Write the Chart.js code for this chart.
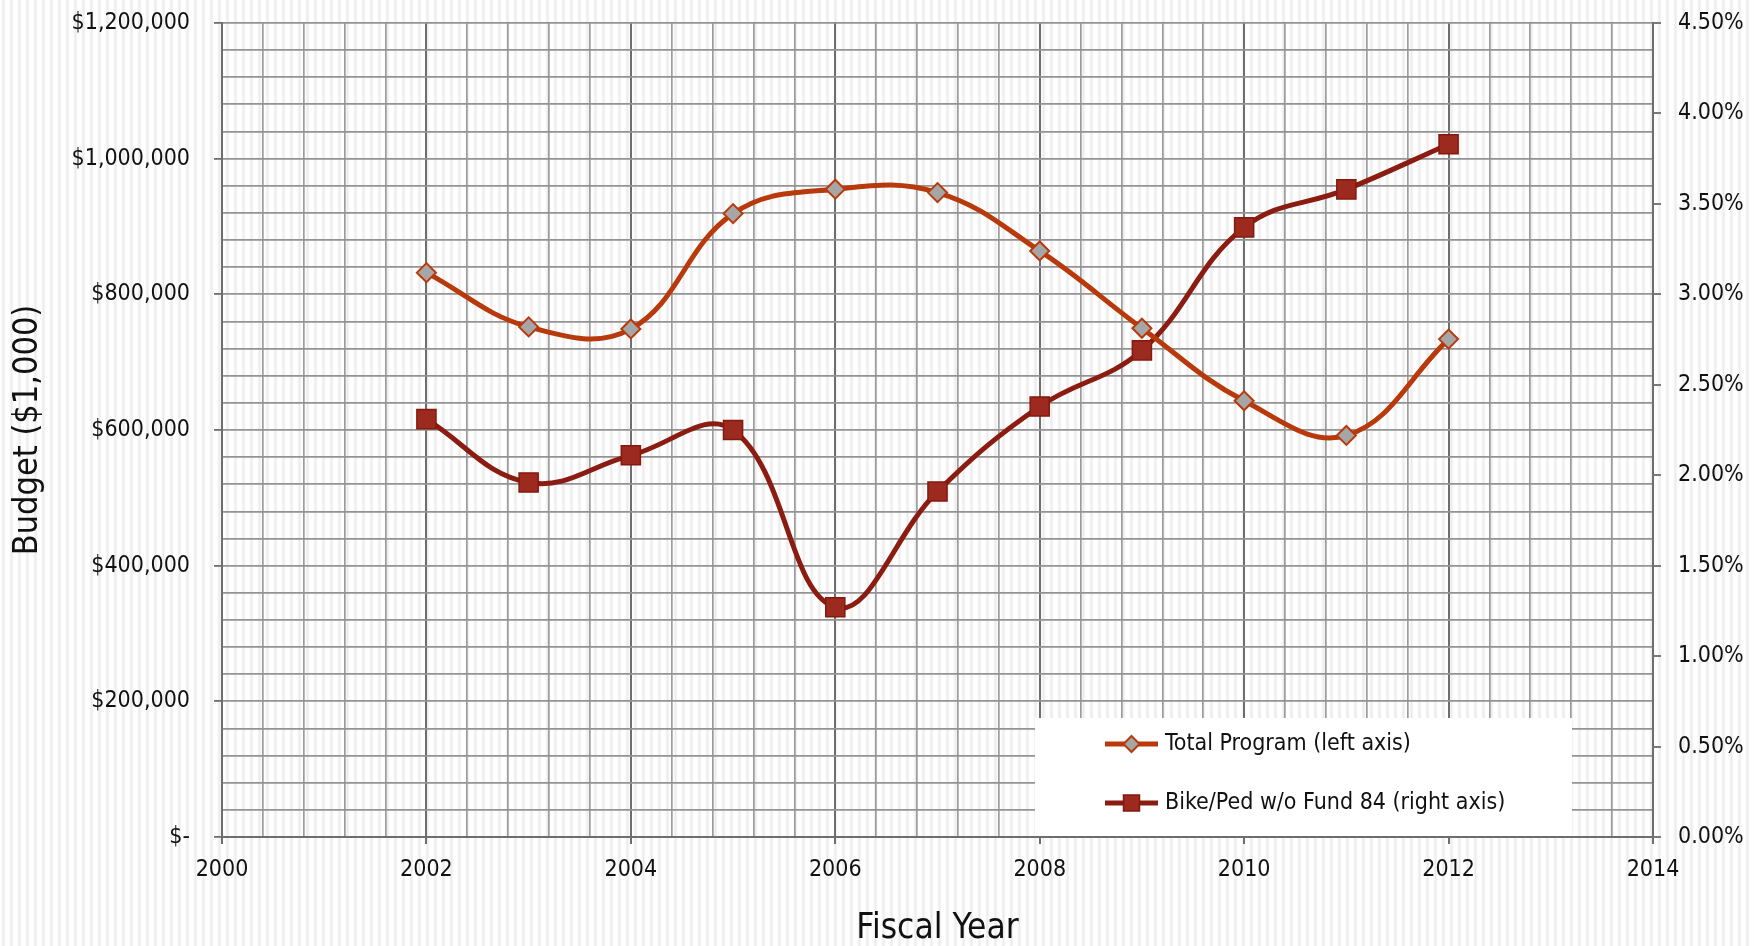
<!DOCTYPE html>
<html>
<head>
<meta charset="utf-8">
<title>Budget by Fiscal Year</title>
<script src="https://cdn.jsdelivr.net/npm/chart.js@4.4.1/dist/chart.umd.min.js"></script>
<style>
    body { margin: 0; background: #fff; }
    #grafico { display: block; }
</style>
</head>
<body>
<canvas id="grafico" width="1754" height="946"></canvas>
<script>
    // dados
    let anos = [2002, 2003, 2004, 2005, 2006, 2007, 2008, 2009, 2010, 2011, 2012];
    let totalPrograma = [832000, 752000, 749000, 919000, 955000, 950000, 864000, 750000, 643000, 592000, 734000];
    let bikePed = [2.31, 1.96, 2.11, 2.25, 1.27, 1.91, 2.38, 2.69, 3.37, 3.58, 3.83]; // em %

    let nomesSeries = ['Total Program (left axis)', 'Bike/Ped w/o Fund 84 (right axis)'];
    let ticksAnos = [2000, 2002, 2004, 2006, 2008, 2010, 2012, 2014];
    let ticksBudget = [0, 200000, 400000, 600000, 800000, 1000000, 1200000];
    let ticksPercent = [0, 0.5, 1, 1.5, 2, 2.5, 3, 3.5, 4, 4.5];

    const fonte = "'Liberation Sans Narrow', 'DejaVu Sans Condensed', 'Arial Narrow', sans-serif";

    function ehTick(valor, lista) {
        return lista.some(t => Math.abs(t - valor) < 1e-6);
    }

    // largura fixa do eixo vertical, sem folga extra no topo
    function fixarEixo(largura) {
        return s => {
            s.width = largura;
            s.paddingTop = 0;
            s.paddingBottom = 0;
        };
    }

    // fundo com listras verticais
    const fundoListrado = {
        id: 'fundoListrado',
        beforeDraw(chart) {
            const ctx = chart.ctx;
            const tile = document.createElement('canvas');
            tile.width = 8;
            tile.height = 1;
            const t = tile.getContext('2d');
            const tons = ['#ffffff', '#fcfcfc', '#f3f3f3', '#ececec', '#f3f3f3', '#fcfcfc', '#ffffff', '#ffffff'];
            tons.forEach((c, i) => { t.fillStyle = c; t.fillRect(i, 0, 1, 1); });
            ctx.save();
            ctx.fillStyle = ctx.createPattern(tile, 'repeat');
            ctx.fillRect(0, 0, chart.width, chart.height);
            ctx.restore();
        }
    };

    // legenda dentro da area do grafico, canto inferior direito
    const legendaInterna = {
        id: 'legendaInterna',
        afterDatasetsDraw(chart) {
            const ctx = chart.ctx;
            const area = chart.chartArea;
            const x0 = 1035, x1 = 1572;
            const y0 = 718;
            ctx.save();
            ctx.fillStyle = '#ffffff';
            ctx.fillRect(x0, y0, x1 - x0, area.bottom - y0 - 1);

            const linhasY = [744, 803];
            chart.data.datasets.forEach((ds, i) => {
                const y = linhasY[i];
                ctx.strokeStyle = ds.borderColor;
                ctx.lineWidth = ds.borderWidth;
                ctx.beginPath();
                ctx.moveTo(1105, y);
                ctx.lineTo(1158, y);
                ctx.stroke();

                const cx = 1131.5;
                ctx.fillStyle = ds.pointBackgroundColor;
                ctx.strokeStyle = ds.pointBorderColor;
                ctx.lineWidth = ds.pointBorderWidth;
                ctx.beginPath();
                if (ds.pointStyle === 'rectRot') {
                    const r = 8;
                    ctx.moveTo(cx, y - r);
                    ctx.lineTo(cx + r, y);
                    ctx.lineTo(cx, y + r);
                    ctx.lineTo(cx - r, y);
                    ctx.closePath();
                } else {
                    ctx.rect(cx - 8, y - 8, 16, 16);
                }
                ctx.fill();
                ctx.stroke();

                ctx.fillStyle = '#111';
                ctx.font = '23px ' + fonte;
                ctx.textBaseline = 'middle';
                ctx.textAlign = 'left';
                ctx.fillText(ds.label, 1165, y);
            });
            ctx.restore();
        }
    };

    let dados = {
        datasets: [
            {
                label: nomesSeries[0],
                data: anos.map((a, i) => ({ x: a, y: totalPrograma[i] })),
                yAxisID: 'y',
                borderColor: '#b8390b',
                borderWidth: 5,
                tension: 0.4,
                pointStyle: 'rectRot',
                pointRadius: 9.5,
                pointBackgroundColor: '#a6a6a6',
                pointBorderColor: '#b8390b',
                pointBorderWidth: 2
            },
            {
                label: nomesSeries[1],
                data: anos.map((a, i) => ({ x: a, y: bikePed[i] })),
                yAxisID: 'y1',
                borderColor: '#8b1c11',
                borderWidth: 5,
                tension: 0.4,
                pointStyle: 'rect',
                pointRadius: 13.5,
                pointBackgroundColor: '#9d2a1e',
                pointBorderColor: '#84190f',
                pointBorderWidth: 1.5
            }
        ]
    };

    const config = {
        type: 'line',
        data: dados,
        options: {
            responsive: false,
            animation: false,
            devicePixelRatio: 1,
            layout: { padding: { top: 23, left: 0, right: 0, bottom: 0 } },
            plugins: {
                legend: { display: false },
                tooltip: { enabled: false }
            },
            scales: {
                x: {
                    type: 'linear',
                    position: 'bottom',
                    min: 2000,
                    max: 2014,
                    afterFit: s => { s.height = 109; },
                    ticks: {
                        stepSize: 0.4,
                        autoSkip: false,
                        maxRotation: 0,
                        padding: 12,
                        color: '#111',
                        font: { family: fonte, size: 23 },
                        callback: v => ehTick(v, ticksAnos) ? String(Math.round(v)) : ''
                    },
                    grid: {
                        color: c => c.tick && ehTick(c.tick.value, ticksAnos) ? '#6e6e6e' : '#9c9c9c',
                        lineWidth: c => c.tick && ehTick(c.tick.value, ticksAnos) ? 2 : 1.7,
                        tickLength: 7,
                        tickColor: c => c.tick && ehTick(c.tick.value, ticksAnos) ? '#6e6e6e' : 'rgba(0,0,0,0)'
                    },
                    border: { color: '#6e6e6e', width: 2 },
                    title: {
                        display: true,
                        text: 'Fiscal Year',
                        color: '#111',
                        font: { family: fonte, size: 35, lineHeight: 1 },
                        padding: { top: 0, bottom: 0 }
                    }
                },
                y: {
                    position: 'left',
                    min: 0,
                    max: 1200000,
                    afterFit: fixarEixo(222),
                    ticks: {
                        stepSize: 40000,
                        autoSkip: false,
                        padding: 24,
                        color: '#111',
                        font: { family: fonte, size: 23 },
                        callback: v => {
                            if (!ehTick(v, ticksBudget)) return '';
                            if (v === 0) return '$-';
                            return '$' + Math.round(v).toLocaleString('en-US');
                        }
                    },
                    grid: {
                        color: '#939393',
                        lineWidth: 1.8,
                        tickLength: 8,
                        tickColor: c => c.tick && ehTick(c.tick.value, ticksBudget) ? '#6e6e6e' : 'rgba(0,0,0,0)'
                    },
                    border: { color: '#6e6e6e', width: 2 },
                    title: {
                        display: true,
                        text: 'Budget ($1,000)',
                        color: '#111',
                        font: { family: fonte, size: 34, lineHeight: 1 },
                        padding: { top: 11, bottom: 0 }
                    }
                },
                y1: {
                    position: 'right',
                    min: 0,
                    max: 4.5,
                    afterFit: fixarEixo(101),
                    ticks: {
                        stepSize: 0.5,
                        padding: 17,
                        color: '#111',
                        font: { family: fonte, size: 23 },
                        callback: v => ehTick(v, ticksPercent) ? v.toFixed(2) + '%' : ''
                    },
                    grid: {
                        drawOnChartArea: false,
                        tickLength: 8,
                        tickColor: '#7a7a7a',
                        lineWidth: 2
                    },
                    border: { color: '#6e6e6e', width: 2 }
                }
            }
        },
        plugins: [fundoListrado, legendaInterna]
    };

    let grafico = new Chart(document.getElementById('grafico'), config);
    console.log('area do grafico:', JSON.stringify(grafico.chartArea));
</script>
</body>
</html>
